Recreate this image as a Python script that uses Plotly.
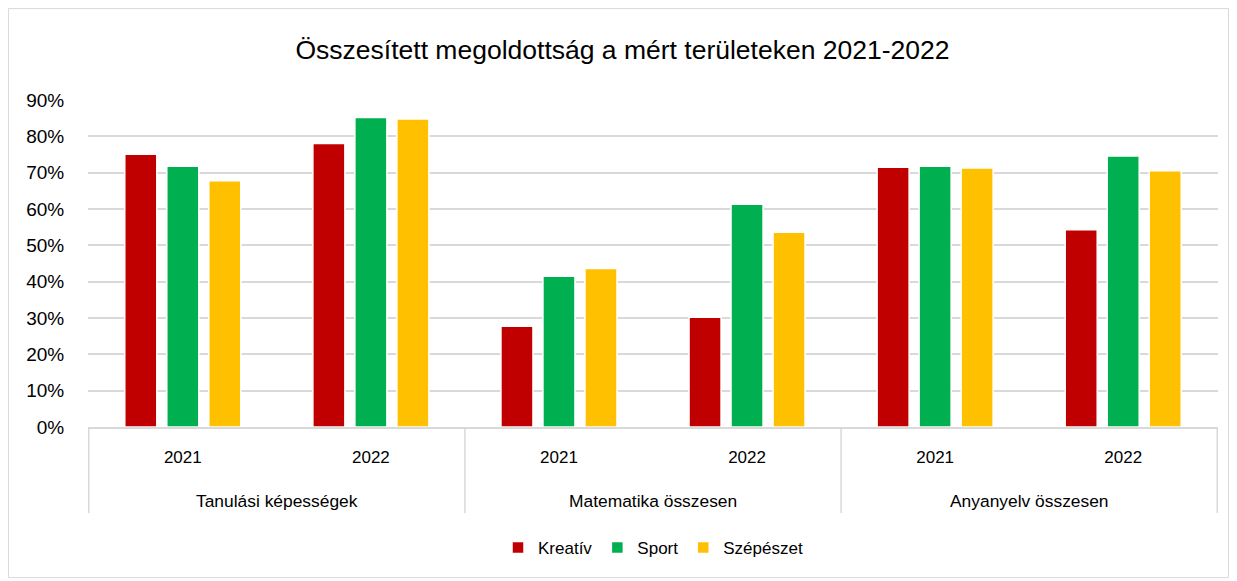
import plotly.graph_objects as go

groups = ["Tanulási képességek", "Tanulási képességek",
          "Matematika összesen", "Matematika összesen",
          "Anyanyelv összesen", "Anyanyelv összesen"]
years = ["2021", "2022", "2021", "2022", "2021", "2022"]

kreativ = [0.751, 0.780, 0.277, 0.302, 0.715, 0.543]
sport = [0.718, 0.852, 0.415, 0.613, 0.718, 0.746]
szepeszet = [0.678, 0.848, 0.436, 0.536, 0.713, 0.705]

series = [("Kreatív", kreativ, "#C00000"),
          ("Sport", sport, "#00B050"),
          ("Szépészet", szepeszet, "#FFC000")]

FONT = "Liberation Sans, Arial, sans-serif"

keys = [g + " " + y for g, y in zip(groups, years)]

fig = go.Figure()
for name, vals, col in series:
    fig.add_trace(go.Bar(
        x=keys, y=vals, name=name,
        marker=dict(color=col, line=dict(color="white", width=1.5)),
    ))

# group labels and dividers derived from the category order
unique_groups = []
for g in groups:
    if g not in unique_groups:
        unique_groups.append(g)

annotations = []
shapes = []
div_positions = [-0.5]
for g in unique_groups:
    idx = [i for i, gg in enumerate(groups) if gg == g]
    center = sum(idx) / len(idx)
    annotations.append(dict(text=g, x=center, xref="x", y=-0.226, yref="paper",
                            yanchor="middle", showarrow=False,
                            font=dict(family=FONT, size=17.4, color="#000000")))
    div_positions.append(max(idx) + 0.5)

for xp in div_positions:
    shapes.append(dict(type="line", xref="x", yref="paper", x0=xp, x1=xp,
                       y0=0, y1=-0.263, line=dict(color="#D9D9D9", width=1.5)))

shapes.append(dict(type="rect", xref="paper", yref="paper",
                   x0=-0.0704, x1=1.0093, y0=-0.4605, y1=1.2795,
                   line=dict(color="#D9D9D9", width=1), fillcolor="rgba(0,0,0,0)",
                   layer="below"))

fig.update_layout(
    width=1229, height=573,
    paper_bgcolor="white", plot_bgcolor="white",
    margin=dict(l=80, r=19, t=92, b=154),
    barmode="group", bargap=0.33, bargroupgap=0.238,
    font=dict(family=FONT, size=17, color="#000000"),
    title=dict(text="Összesített megoldottság a mért területeken 2021-2022",
               x=0.5, xanchor="center", y=0.927, yanchor="middle",
               font=dict(family=FONT, size=26.5, color="#000000")),
    legend=dict(orientation="h", x=0.5, xanchor="center", y=-0.37, yanchor="middle",
                font=dict(family=FONT, size=17), itemwidth=30,
                traceorder="normal"),
    yaxis=dict(range=[0, 0.9], dtick=0.1, tickformat=".0%",
               showgrid=True, gridcolor="#D9D9D9", gridwidth=1.5,
               zeroline=False, showline=False,
               ticks="outside", ticklen=19, tickcolor="rgba(0,0,0,0)",
               tickfont=dict(family=FONT, size=19)),
    xaxis=dict(type="category", showline=True, linecolor="#D9D9D9", linewidth=1.5,
               tickvals=keys, ticktext=years,
               ticks="outside", ticklen=14, tickcolor="rgba(0,0,0,0)",
               tickfont=dict(family=FONT, size=17)),
    annotations=annotations,
    shapes=shapes,
)

fig.write_html("out.html")
